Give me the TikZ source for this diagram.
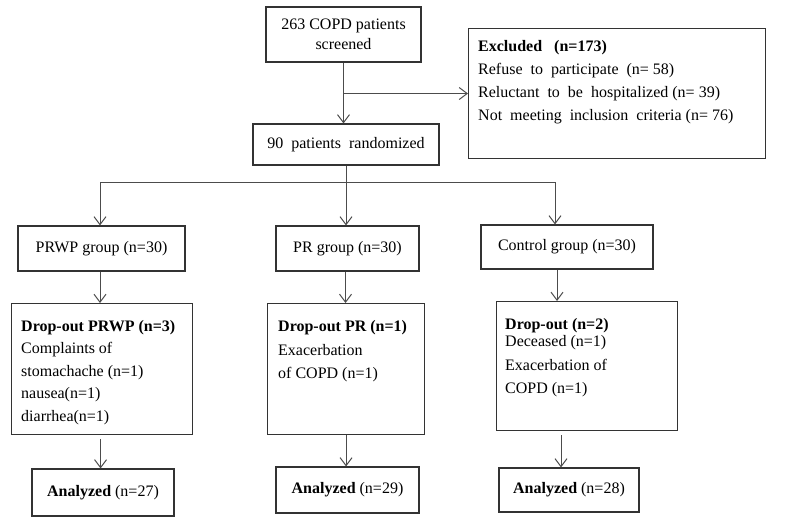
\documentclass[tikz,border=0pt]{standalone}
\usepackage{fontspec}
\setmainfont{Liberation Serif}
\usetikzlibrary{arrows.meta,positioning}

\begin{document}
\begin{tikzpicture} [
        x=1pt, y=-1pt,
        every node/.style={
            font=\fontsize{16}{23}\selectfont
        },
        flowbox/.style={
            draw=black!80,
            line width=1.1pt,
            inner sep=0pt
        },
        notes/.style={
            anchor=north west,
            align=left,
            inner sep=0pt
        },
        flowline/.style={
            draw=black!70,
            line width=1pt
        },
        flowarrow/.style={
            flowline,
            -{Straight Barb[length=8pt,width=12pt]}
        }
    ]

        \useasboundingbox (0,0) rectangle (787,525);

        % screening and exclusion
        \node[flowbox, minimum width=155pt, minimum height=55pt, align=center] (screen) at (343.5,34.5)
            {263 COPD patients\\[-3pt]screened};
        \node[flowbox, anchor=north west, minimum width=297pt, minimum height=130pt] (excl) at (468,28) {};
        \node[notes] (excltext) at ([shift={(10,12)}]excl.north west)
            {\textbf{Excluded\ \ \ (n=173)}\\
             Refuse\ \ to\ \ participate\ \ (n= 58)\\
             Reluctant\ \ to\ \ be\ \ hospitalized (n= 39)\\
             Not\ \ meeting\ \ inclusion\ \ criteria (n= 76)};
        \node[flowbox, minimum width=186pt, minimum height=41pt] (rand) at (346,144.5)
            {90\ \ patients\ \ randomized};

        % groups
        \node[flowbox, minimum width=167pt, minimum height=45pt] (prwp) at (101.5,248.5) {PRWP group (n=30)};
        \node[flowbox, minimum width=143pt, minimum height=45pt] (pr)   at (347.5,248.5) {PR group (n=30)};
        \node[flowbox, minimum width=172pt, minimum height=44pt] (ctrl) at (567,247)     {Control group (n=30)};

        % drop-outs
        \node[flowbox, anchor=north west, minimum width=181pt, minimum height=131pt] (dprwp) at (11,303)  {};
        \node[flowbox, anchor=north west, minimum width=157pt, minimum height=131pt] (dpr)   at (267,303) {};
        \node[flowbox, anchor=north west, minimum width=181pt, minimum height=129pt] (dctrl) at (496,301) {};

        \node[notes] (dprwptext) at ([shift={(10,17)}]dprwp.north west)
            {\textbf{Drop-out PRWP (n=3)}\\[-0.5pt]
             Complaints of\\[-0.5pt]
             stomachache (n=1)\\[-0.5pt]
             nausea(n=1)\\[-0.5pt]
             diarrhea(n=1)};
        \node[notes] (dprtext) at ([shift={(11,17)}]dpr.north west)
            {\textbf{Drop-out PR (n=1)}\\[1pt]
             Exacerbation\\
             of COPD (n=1)};
        \node[notes] (dctrltext) at ([shift={(9,17)}]dctrl.north west)
            {\textbf{Drop-out (n=2)}\\[-6pt]
             Deceased (n=1)\\[1pt]
             Exacerbation of\\
             COPD (n=1)};

        % analyzed
        \node[flowbox, minimum width=142pt, minimum height=47pt] (anprwp) at (103,492.5) {\textbf{Analyzed} (n=27)};
        \node[flowbox, minimum width=143pt, minimum height=46pt] (anpr)   at (347.5,490) {\textbf{Analyzed} (n=29)};
        \node[flowbox, minimum width=140pt, minimum height=44pt] (anctrl) at (569,490)   {\textbf{Analyzed} (n=28)};

        % connectors
        \coordinate (split) at (rand.south |- 0,182);

        \draw[flowarrow] (screen.south) -- (screen.south |- rand.north);
        \draw[flowarrow] (screen.south |- excl.west) -- (excl.west);
        \draw[flowline]  (rand.south) -- (split);
        \draw[flowarrow] (split) -| ([xshift=-1.5pt]prwp.north);
        \draw[flowarrow] (split) -- (split |- pr.north);
        \draw[flowarrow] (split) -| ([xshift=-12pt]ctrl.north);

        \draw[flowarrow] ([xshift=-1.5pt]prwp.south) -- ([xshift=-1.5pt]prwp.south |- dprwp.north);
        \draw[flowarrow] ([xshift=-2pt]pr.south) -- ([xshift=-2pt]pr.south |- dpr.north);
        \draw[flowarrow] ([xshift=-10pt]ctrl.south) -- ([xshift=-10pt]ctrl.south |- dctrl.north);

        \draw[flowarrow, shorten <=4pt] ([xshift=-1.5pt]dprwp.south) -- ([xshift=-1.5pt]dprwp.south |- anprwp.north);
        \draw[flowarrow] (dpr.south) -- (dpr.south |- anpr.north);
        \draw[flowarrow, shorten <=4pt] ([xshift=-8pt]anctrl.north |- dctrl.south) -- ([xshift=-8pt]anctrl.north);

    \end{tikzpicture}
\end{document}
